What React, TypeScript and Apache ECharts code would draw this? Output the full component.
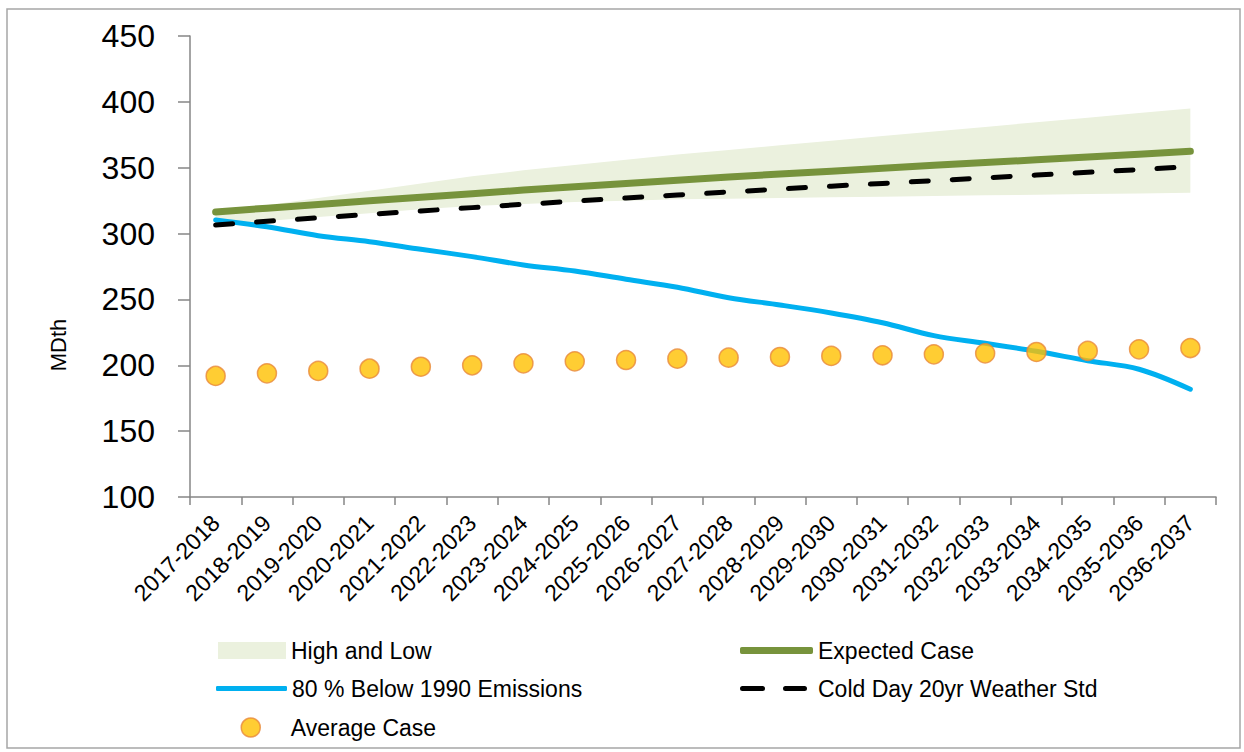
import React, { useEffect, useRef } from "react";
import * as echarts from "echarts";

const categories = [
  "2017-2018", "2018-2019", "2019-2020", "2020-2021", "2021-2022",
  "2022-2023", "2023-2024", "2024-2025", "2025-2026", "2026-2027",
  "2027-2028", "2028-2029", "2029-2030", "2030-2031", "2031-2032",
  "2032-2033", "2033-2034", "2034-2035", "2035-2036", "2036-2037",
];

const highValues = [316, 321.5, 327, 332.5, 338, 343.5, 348, 352, 356, 360, 363.5, 367, 370.5, 374, 377.5, 381, 384.5, 388, 391.5, 395];
const lowValues = [306.5, 309.5, 312.5, 315.5, 318.5, 321, 322.5, 324, 325, 326, 326.5, 327, 327.5, 328, 328.5, 329, 329.5, 330, 330.5, 331];
const expectedCase = [316.4, 319.3, 322.1, 324.9, 327.6, 330.3, 333.0, 335.6, 338.1, 340.5, 342.9, 345.2, 347.4, 349.6, 351.8, 353.9, 356.0, 358.1, 360.2, 362.5];
const emissions80 = [310.3, 305.2, 298.4, 293.8, 288.1, 282.5, 276.2, 271.6, 265.3, 259.2, 251.3, 245.8, 239.7, 232.3, 222.5, 216.7, 210.6, 203.5, 197.0, 181.8];
const coldDay = [306.5, 309.3, 312.0, 314.6, 317.2, 319.7, 322.2, 324.6, 327.0, 329.3, 331.6, 333.8, 336.0, 338.1, 340.2, 342.3, 344.4, 346.5, 348.6, 350.8];
const averageCase = [191.9, 193.9, 195.7, 197.4, 198.9, 200.0, 201.5, 203.0, 204.0, 205.0, 205.8, 206.3, 207.1, 207.6, 208.3, 209.1, 210.1, 210.9, 212.1, 213.1];

const yMin = 100;
const yMax = 450;
const yInterval = 50;
const yAxisName = "MDth";

const FONT = "Liberation Sans, Arial, sans-serif";

export default function App() {
  const ref = useRef<HTMLDivElement>(null);

  useEffect(() => {
    if (!ref.current) return;
    const chart = echarts.init(ref.current, undefined, { renderer: "svg" });
    const bandDiff = highValues.map((h, i) => +(h - lowValues[i]).toFixed(2));

    const legendBase = {
      orient: "horizontal",
      selectedMode: false,
      padding: 0,
      itemGap: 0,
      textStyle: { fontFamily: FONT, fontSize: 23, color: "#000" },
    };

    chart.setOption({
      animation: false,
      backgroundColor: "#fff",
      grid: { left: 190, right: 28, top: 36, bottom: 255, containLabel: false },
      xAxis: {
        type: "category",
        data: categories,
        boundaryGap: true,
        axisLine: { show: true, lineStyle: { color: "#868686", width: 1.5 } },
        axisTick: { show: true, interval: 0, length: 8, lineStyle: { color: "#868686", width: 1.5 } },
        axisLabel: {
          interval: 0,
          rotate: 45,
          margin: 22,
          fontFamily: FONT,
          fontSize: 23,
          color: "#000",
        },
        splitLine: { show: false },
      },
      yAxis: {
        type: "value",
        min: yMin,
        max: yMax,
        interval: yInterval,
        axisLine: { show: true, lineStyle: { color: "#868686", width: 1.5 } },
        axisTick: { show: true, length: 12, lineStyle: { color: "#868686", width: 1.5 } },
        axisLabel: { margin: 35, fontFamily: FONT, fontSize: 32, color: "#000" },
        splitLine: { show: false },
      },
      legend: [
        {
          ...legendBase,
          left: 218, top: 639,
          itemWidth: 68, itemHeight: 17,
          data: [{ name: "High and Low", icon: "rect", itemStyle: { color: "#EBF1DE", borderWidth: 0 } }],
        },
        {
          ...legendBase,
          left: 740, top: 639,
          itemWidth: 73, itemHeight: 7,
          data: [{ name: "Expected Case", icon: "roundRect", itemStyle: { color: "#77933C", borderWidth: 0 } }],
        },
        {
          ...legendBase,
          left: 216, top: 677,
          itemWidth: 71, itemHeight: 5,
          data: [{ name: "80 % Below 1990 Emissions", icon: "roundRect", itemStyle: { color: "#00B0F0", borderWidth: 0 } }],
        },
        {
          ...legendBase,
          left: 740, top: 677,
          itemWidth: 73, itemHeight: 5,
          data: [{
            name: "Cold Day 20yr Weather Std",
            icon: "path://M2.5,0h20a2.5,2.5,0,0,1,0,5h-20a2.5,2.5,0,0,1,0,-5z M45.5,0h19a2.5,2.5,0,0,1,0,5h-19a2.5,2.5,0,0,1,0,-5z M72.95,2.45h0.05v0.05h-0.05z",
            itemStyle: { color: "#000", borderWidth: 0 },
          }],
        },
        {
          ...legendBase,
          left: 240.5, top: 716,
          itemWidth: 70, itemHeight: 19,
          data: [{ name: "Average Case", icon: "circle", itemStyle: { color: "#FFC000", borderColor: "#E8883A", borderWidth: 1.5 } }],
        },
      ],
      graphic: [
        {
          type: "rect",
          shape: { x: 7, y: 9, width: 1233, height: 739 },
          style: { fill: "none", stroke: "#A6A6A6", lineWidth: 1.5 },
          silent: true,
        },
        {
          type: "text",
          x: 58,
          y: 345,
          rotation: Math.PI / 2,
          style: {
            text: yAxisName,
            fontFamily: FONT,
            fontSize: 22,
            fill: "#000",
            align: "center",
            verticalAlign: "middle",
          },
          silent: true,
        },
      ],
      series: [
        {
          name: "Low",
          type: "line",
          stack: "band",
          data: lowValues,
          symbol: "none",
          lineStyle: { width: 0, opacity: 0 },
          silent: true,
          z: 1,
        },
        {
          name: "High and Low",
          type: "line",
          stack: "band",
          data: bandDiff,
          symbol: "none",
          itemStyle: { color: "#EBF1DE" },
          lineStyle: { width: 0, opacity: 0 },
          areaStyle: { color: "#EBF1DE", opacity: 1 },
          silent: true,
          z: 1,
        },
        {
          name: "80 % Below 1990 Emissions",
          type: "line",
          data: emissions80,
          symbol: "none",
          smooth: 0.35,
          itemStyle: { color: "#00B0F0" },
          lineStyle: { color: "#00B0F0", width: 5, cap: "round", join: "round" },
          z: 2,
        },
        {
          name: "Expected Case",
          type: "line",
          data: expectedCase,
          symbol: "none",
          itemStyle: { color: "#77933C" },
          lineStyle: { color: "#77933C", width: 7, cap: "round", join: "round" },
          z: 3,
        },
        {
          name: "Cold Day 20yr Weather Std",
          type: "line",
          data: coldDay,
          symbol: "none",
          itemStyle: { color: "#000" },
          lineStyle: { color: "#000", width: 5, type: [17, 24], cap: "round", join: "round" },
          z: 4,
        },
        {
          name: "Average Case",
          type: "scatter",
          data: averageCase,
          symbol: "circle",
          symbolSize: 19,
          itemStyle: { color: "#FFC000", borderColor: "#E8883A", borderWidth: 1.5 },
          z: 5,
        },
      ],
    });

    return () => chart.dispose();
  }, []);

  return (
    <div
      ref={ref}
      style={{ position: "absolute", left: 0, top: 0, width: 1244, height: 752, background: "#fff" }}
    />
  );
}
